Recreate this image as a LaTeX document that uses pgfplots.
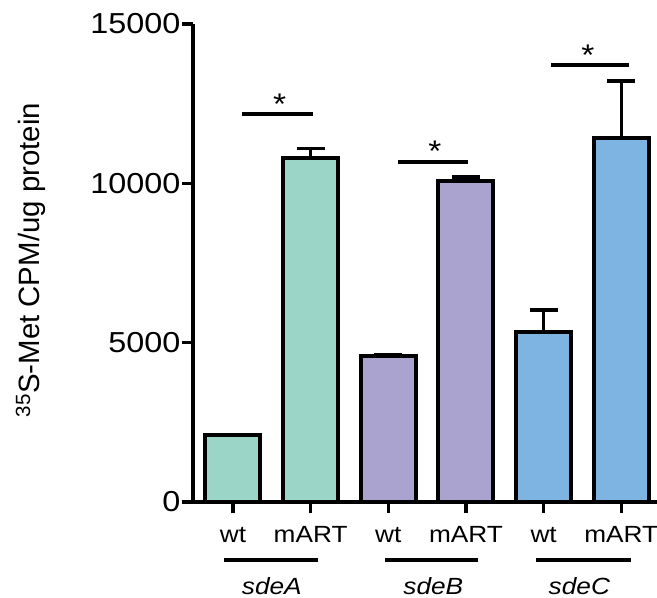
\documentclass[border=0pt]{standalone}
\usepackage{pgfplots}
\pgfplotsset{compat=1.18}
\usepackage{fontspec}
\setmainfont{Liberation Sans}[FakeStretch=1.12]
\newfontfamily\ylabfont{Liberation Sans}
\definecolor{colA}{RGB}{155,213,200}
\definecolor{colB}{RGB}{170,163,208}
\definecolor{colC}{RGB}{125,180,226}
\begin{document}
\begin{tikzpicture}
\begin{axis}[
  at={(0,0)}, anchor=south west,
  scale only axis, width=464bp, height=478bp,
  xmin=-0.515, xmax=5.46, ymin=0, ymax=15000,
  axis x line=bottom, axis y line=left,
  axis line style={line width=3.5bp, -},
  xtick={0,1,2,3,4,5}, xticklabels={wt,mART,wt,mART,wt,mART},
  ytick={0,5000,10000,15000},
  scaled y ticks=false,
  /pgf/number format/assume math mode=true,
  yticklabel style={/pgf/number format/fixed, /pgf/number format/1000 sep={}, font=\fontsize{29}{29}\selectfont, inner xsep=1.5bp},
  xticklabel style={font=\fontsize{23.5}{23.5}\selectfont, anchor=base, yshift=-29bp},
  tick align=outside,
  major tick length=11bp,
  tick style={line width=3.5bp, black},
  clip=false,
  ylabel={\textsuperscript{35}S-Met CPM/ug protein},
  ylabel style={font=\ylabfont\fontsize{29.5}{31}\selectfont, at={(axis description cs:-0.35,0.506)}, anchor=center},
  ybar, bar width=55bp, bar shift=0pt,
  error bars/error bar style={line width=3.5bp, black},
  error bars/error mark options={line width=3.5bp, mark size=14bp, black, rotate=90},
]
\addplot[fill=colA, draw=black, line width=4bp, error bars/.cd, y dir=plus, y explicit]
  coordinates {(0,2100) +- (0,20) (1,10800) +- (0,300)};
\addplot[fill=colB, draw=black, line width=4bp, error bars/.cd, y dir=plus, y explicit]
  coordinates {(2,4570) +- (0,40) (3,10080) +- (0,120)};
\addplot[fill=colC, draw=black, line width=4bp, error bars/.cd, y dir=plus, y explicit]
  coordinates {(4,5330) +- (0,690) (5,11420) +- (0,1790)};
% significance lines
\addplot[sharp plot, no marks, black, line width=3.5bp] coordinates {(0.12,12175) (1.03,12175)};
\addplot[sharp plot, no marks, black, line width=3.5bp] coordinates {(2.13,10670) (3.02,10670)};
\addplot[sharp plot, no marks, black, line width=3.5bp] coordinates {(4.10,13710) (5.10,13710)};
% group underlines
\addplot[sharp plot, no marks, black, line width=3.5bp] coordinates {(-0.11,-1820) (1.09,-1820)};
\addplot[sharp plot, no marks, black, line width=3.5bp] coordinates {(1.96,-1820) (3.16,-1820)};
\addplot[sharp plot, no marks, black, line width=3.5bp] coordinates {(3.90,-1820) (5.12,-1820)};
\node[font=\fontsize{30}{30}\selectfont, anchor=base] at (axis cs:0.6,12175) {*};
\node[font=\fontsize{30}{30}\selectfont, anchor=base] at (axis cs:2.6,10670) {*};
\node[font=\fontsize{30}{30}\selectfont, anchor=base] at (axis cs:4.57,13710) {*};
\node[font=\itshape\fontsize{23.5}{23.5}\selectfont] at (axis cs:0.5,-2630) {sdeA};
\node[font=\itshape\fontsize{23.5}{23.5}\selectfont] at (axis cs:2.58,-2630) {sdeB};
\node[font=\itshape\fontsize{23.5}{23.5}\selectfont] at (axis cs:4.46,-2630) {sdeC};
\end{axis}
\pgfresetboundingbox
\path[use as bounding box] (-193bp,-96bp) rectangle (464bp,502bp);
\end{tikzpicture}
\end{document}
